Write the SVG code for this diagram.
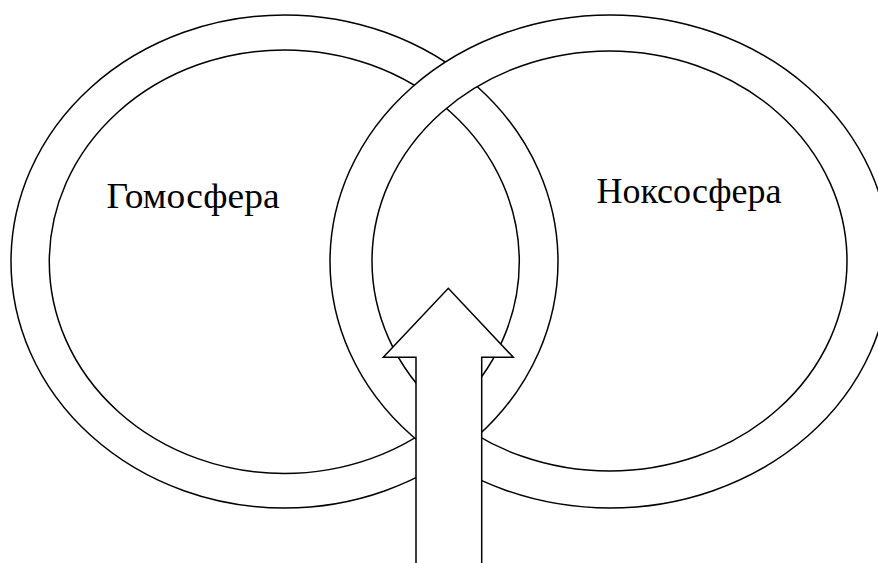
<svg xmlns="http://www.w3.org/2000/svg" width="878" height="563" viewBox="0 0 878 563">
<style>
.ring{fill:#fff;fill-rule:evenodd;stroke:#000;stroke-width:1.5}
.lbl{font-family:'Liberation Serif','Tinos','Times New Roman','DejaVu Serif','Noto Serif',serif;font-size:36px;fill:#000}
.arr{fill:#fff;stroke:#000;stroke-width:1.5;stroke-linejoin:miter}
</style>
<rect width="878" height="563" fill="#fff"/>
<g id="homosphere">
<path class="ring" d="M11,261.5 A273.5,246.5 0 1 0 558,261.5 A273.5,246.5 0 1 0 11,261.5 Z M49.3,261.7 A235,211.7 0 1 0 519.3,261.7 A235,211.7 0 1 0 49.3,261.7 Z"/>
<text class="lbl" x="106.5" y="208" textLength="173" lengthAdjust="spacingAndGlyphs">Гомосфера</text>
</g>
<g id="noxosphere">
<path class="ring" d="M330,261.5 A280,246.5 0 1 0 890,261.5 A280,246.5 0 1 0 330,261.5 Z M372,261 A237.5,210 0 1 0 847,261 A237.5,210 0 1 0 372,261 Z"/>
<text class="lbl" x="596.5" y="203" textLength="185" lengthAdjust="spacingAndGlyphs">Ноксосфера</text>
</g>
<g id="connectors">
<polygon class="arr" points="416,566 416,357.3 383.3,357.3 448.3,288.3 513.3,357.3 481.7,357.3 481.7,566"/>
</g>
</svg>
